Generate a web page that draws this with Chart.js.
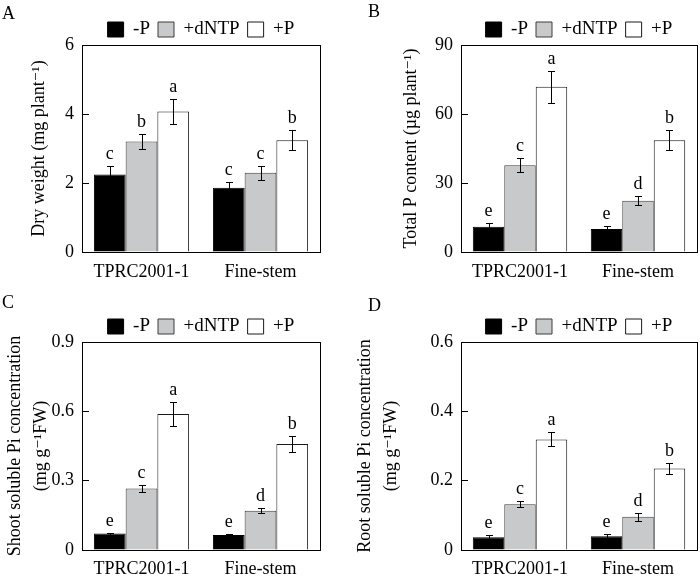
<!DOCTYPE html>
<html><head><meta charset="utf-8">
<script src="https://cdn.jsdelivr.net/npm/chart.js@4.4.1/dist/chart.umd.min.js"></script>
<style>
body{margin:0;background:#fff;width:700px;height:578px;position:relative;overflow:hidden}
canvas{position:absolute}
</style></head><body>
<canvas id="cA" width="350" height="290" style="left:0;top:0"></canvas>
<canvas id="cB" width="350" height="290" style="left:350px;top:0"></canvas>
<canvas id="cC" width="350" height="288" style="left:0;top:290px"></canvas>
<canvas id="cD" width="350" height="288" style="left:350px;top:290px"></canvas>
<script>
// ---- data ----
const categories = ['TPRC2001-1', 'Fine-stem'];
const seriesNames = ['-P', '+dNTP', '+P'];

// A: Dry weight
const dryMinusP = [2.25, 1.86];
const dryDNTP   = [3.20, 2.30];
const dryPlusP  = [4.07, 3.24];
const dryErrMinusP = [0.23, 0.18];
const dryErrDNTP   = [0.21, 0.20];
const dryErrPlusP  = [0.36, 0.29];
const dryLetters = [['c', 'c'], ['b', 'c'], ['a', 'b']];
const dryTicks = [0, 2, 4, 6];

// B: Total P content
const totMinusP = [11.0, 10.0];
const totDNTP   = [37.7, 22.3];
const totPlusP  = [71.9, 48.6];
const totErrMinusP = [1.5, 1.2];
const totErrDNTP   = [3.0, 2.0];
const totErrPlusP  = [6.9, 4.4];
const totLetters = [['e', 'e'], ['c', 'd'], ['a', 'b']];
const totTicks = [0, 30, 60, 90];

// C: Shoot soluble Pi
const shootMinusP = [0.071, 0.065];
const shootDNTP   = [0.266, 0.170];
const shootPlusP  = [0.588, 0.459];
const shootErrMinusP = [0.004, 0.006];
const shootErrDNTP   = [0.014, 0.010];
const shootErrPlusP  = [0.052, 0.033];
const shootLetters = [['e', 'e'], ['c', 'd'], ['a', 'b']];
const shootTicks = [0, 0.3, 0.6, 0.9];

// D: Root soluble Pi
const rootMinusP = [0.037, 0.040];
const rootDNTP   = [0.132, 0.096];
const rootPlusP  = [0.319, 0.235];
const rootErrMinusP = [0.005, 0.005];
const rootErrDNTP   = [0.009, 0.011];
const rootErrPlusP  = [0.020, 0.016];
const rootLetters = [['e', 'e'], ['c', 'd'], ['a', 'b']];
const rootTicks = [0, 0.2, 0.4, 0.6];

// ---- drawing ----
const FAM = "'Liberation Serif', 'DejaVu Serif', 'Times New Roman', serif";
const fills = ['#000000', '#c8c9cb', '#ffffff'];
const borders = ['#000000', '#3c3c3c', '#1a1a1a'];

const decor = {
  id: 'decor',
  afterLayout(chart, args, o) {
    if (chart.legend && o.legendShift) {
      chart.legend.top += o.legendShift;
      chart.legend.bottom += o.legendShift;
    }
  },
  afterDatasetsDraw(chart, args, o) {
    const ctx = chart.ctx, ys = chart.scales.y, ca = chart.chartArea;
    ctx.save();
    ctx.strokeStyle = '#000';
    ctx.fillStyle = '#000';
    ctx.lineWidth = 1;
    ctx.font = '18px ' + FAM;
    chart.data.datasets.forEach((ds, i) => {
      const meta = chart.getDatasetMeta(i);
      meta.data.forEach((bar, j) => {
        const v = ds.data[j], e = o.errors[i][j];
        const x = Math.round(bar.x) + 0.5;
        const yT = Math.round(ys.getPixelForValue(v + e)) + 0.5;
        const yB = Math.round(ys.getPixelForValue(v - e)) + 0.5;
        ctx.beginPath();
        ctx.moveTo(x, yT); ctx.lineTo(x, yB);
        ctx.moveTo(x - 3.5, yT); ctx.lineTo(x + 3.5, yT);
        ctx.moveTo(x - 3.5, yB); ctx.lineTo(x + 3.5, yB);
        ctx.stroke();
        ctx.textAlign = 'center';
        ctx.textBaseline = 'alphabetic';
        ctx.fillText(o.letters[i][j], bar.x, yT - 8);
      });
    });
    const l = Math.round(ca.left) + 0.5, t = Math.round(ca.top) + 0.5;
    const r = Math.round(ca.right) + 0.5, b = Math.round(ca.bottom) + 0.5;
    ctx.strokeRect(l, t, r - l, b - t);
    ctx.textAlign = 'left';
    ctx.textBaseline = 'alphabetic';
    ctx.fillText(o.panel, o.panelX, o.panelY);
    ctx.restore();
  }
};

function makePanel(id, p) {
  const datasets = p.series.map((d, i) => ({
    label: seriesNames[i],
    data: d,
    backgroundColor: fills[i],
    borderColor: borders[i],
    borderWidth: 1,
    categoryPercentage: 0.8,
    barPercentage: 1.0
  }));
  new Chart(document.getElementById(id), {
    type: 'bar',
    data: { labels: categories, datasets },
    plugins: [decor],
    options: {
      responsive: false,
      animation: false,
      devicePixelRatio: 1,
      layout: { padding: { top: p.padTop, right: p.padRight, left: 0, bottom: 0 } },
      plugins: {
        legend: {
          position: 'top', fullSize: false, align: 'center',
          labels: { font: { family: FAM, size: 19 }, color: '#000', boxWidth: 16, boxHeight: 15, padding: 8 }
        },
        tooltip: { enabled: false },
        decor: { errors: p.errors, letters: p.letters, panel: p.panel, panelX: p.panelX, panelY: p.panelY, legendShift: 4 }
      },
      scales: {
        x: {
          grid: { display: false },
          border: { display: true, color: '#000', width: 1 },
          ticks: { font: { family: FAM, size: 18 }, color: '#000', padding: p.xPad },
          afterFit: s => { s.height = p.xH; }
        },
        y: {
          min: 0, max: p.ticks[p.ticks.length - 1],
          grid: { drawOnChartArea: false, tickLength: -7, color: '#000' },
          border: { display: true, color: '#000', width: 1 },
          ticks: { font: { family: FAM, size: 18 }, color: '#000', padding: 15 },
          afterBuildTicks: s => { s.ticks = p.ticks.map(v => ({ value: v })); },
          afterFit: s => { s.width = p.yW; },
          title: { display: true, text: p.title, color: '#000',
                   font: { family: FAM, size: 18, lineHeight: p.titleLH },
                   padding: { top: p.titlePad, bottom: 0 } }
        }
      }
    }
  });
}

makePanel('cA', {
  series: [dryMinusP, dryDNTP, dryPlusP],
  errors: [dryErrMinusP, dryErrDNTP, dryErrPlusP],
  letters: dryLetters, ticks: dryTicks,
  title: 'Dry weight (mg plant\u207B\u00B9)', titleLH: 1.2, titlePad: 28,
  panel: 'A', panelX: 2, panelY: 19,
  padTop: 8, padRight: 30, yW: 82, xH: 38, xPad: 1
});
makePanel('cB', {
  series: [totMinusP, totDNTP, totPlusP],
  errors: [totErrMinusP, totErrDNTP, totErrPlusP],
  letters: totLetters, ticks: totTicks,
  title: 'Total P content (\u00B5g plant\u207B\u00B9)', titleLH: 1.2, titlePad: 50,
  panel: 'B', panelX: 18, panelY: 17,
  padTop: 8, padRight: 3, yW: 111, xH: 38, xPad: 1
});
makePanel('cC', {
  series: [shootMinusP, shootDNTP, shootPlusP],
  errors: [shootErrMinusP, shootErrDNTP, shootErrPlusP],
  letters: shootLetters, ticks: shootTicks,
  title: ['Shoot soluble Pi concentration', '(mg g\u207B\u00B9FW)'], titleLH: 1.4, titlePad: 3,
  panel: 'C', panelX: 2, panelY: 18,
  padTop: 15, padRight: 30, yW: 82, xH: 28, xPad: 0
});
makePanel('cD', {
  series: [rootMinusP, rootDNTP, rootPlusP],
  errors: [rootErrMinusP, rootErrDNTP, rootErrPlusP],
  letters: rootLetters, ticks: rootTicks,
  title: ['Root soluble Pi concentration', '(mg g\u207B\u00B9FW)'], titleLH: 1.4, titlePad: 3,
  panel: 'D', panelX: 18, panelY: 21,
  padTop: 15, padRight: 3, yW: 111, xH: 28, xPad: 0
});
</script>
</body></html>
